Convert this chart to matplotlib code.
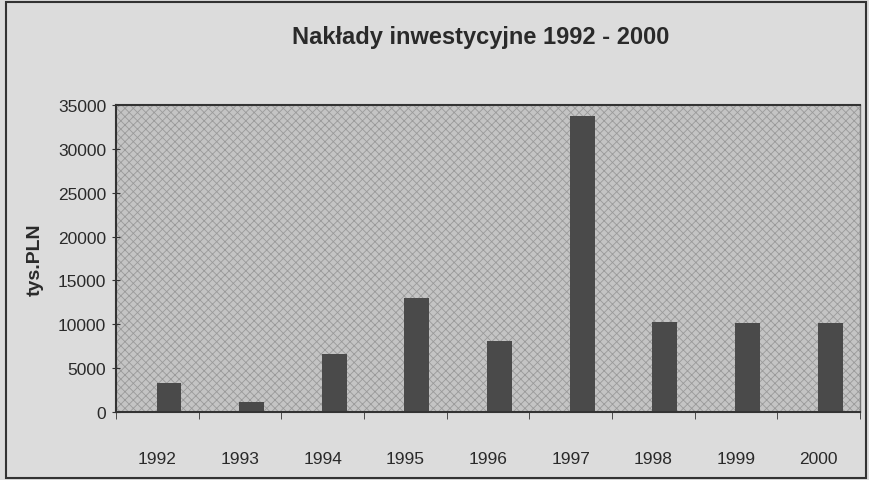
import matplotlib
matplotlib.use("Agg")
import matplotlib.pyplot as plt
from matplotlib.patches import Rectangle

years = ["1992", "1993", "1994", "1995", "1996", "1997", "1998", "1999", "2000"]
values = [3300, 1100, 6600, 13000, 8100, 33700, 10300, 10200, 10200]
yticks = [0, 5000, 10000, 15000, 20000, 25000, 30000, 35000]

plt.rcParams['font.family'] = ['Liberation Sans Narrow', 'Liberation Sans', 'DejaVu Sans']
plt.rcParams['hatch.color'] = '#8c8c8c'
plt.rcParams['hatch.linewidth'] = 0.6

fig = plt.figure(figsize=(8.69, 4.81), dpi=100, facecolor='#dcdcdc')
ax = fig.add_axes([0.1335, 0.1414, 0.8561, 0.6382])

# halftone-like plot background
ax.set_facecolor('#c4c4c4')
ax.add_patch(Rectangle((0, 0), 1, 1, transform=ax.transAxes, facecolor='none',
                       edgecolor='#9a9a9a', hatch='xxxx', linewidth=0, zorder=0))

x = list(range(len(years)))
# bars sit a little right of the category centre, as in the original
ax.bar([i + 0.14 for i in x], values, width=0.3, color='#4a4a4a', zorder=2)

ax.set_xlim(-0.5, len(years) - 0.5)
ax.set_ylim(0, 35000)
ax.set_yticks(yticks)
ax.set_yticklabels([str(v) for v in yticks], fontsize=12.5, color='#2a2a2a')
ax.set_xticks(x)
ax.set_xticklabels(years, fontsize=12.5, color='#2a2a2a')
ax.set_xticks([i - 0.5 for i in range(len(years) + 1)], minor=True)
ax.tick_params(axis='x', which='major', length=0, pad=28)
ax.tick_params(axis='x', which='minor', length=5, direction='out', color='#333333')
ax.tick_params(axis='y', length=6, direction='inout', color='#333333', pad=4)

for s in ['left', 'bottom', 'top']:
    ax.spines[s].set_color('#333333')
    ax.spines[s].set_linewidth(1.5)
ax.spines['right'].set_color('#777777')
ax.spines['right'].set_linewidth(1.0)

ax.set_ylabel("tys.PLN", fontsize=14, fontweight='bold', color='#2a2a2a', labelpad=10)
fig.text(0.553, 0.922, "Nakłady inwestycyjne 1992 - 2000", ha='center', va='center',
         fontsize=17, fontweight='bold', color='#2a2a2a')

# outer frame
fig.add_artist(Rectangle((0.007, 0.004), 0.989, 0.99, transform=fig.transFigure,
                         facecolor='none', edgecolor='#333333', linewidth=1.5))

fig.savefig("out.png", dpi=100, facecolor=fig.get_facecolor())
